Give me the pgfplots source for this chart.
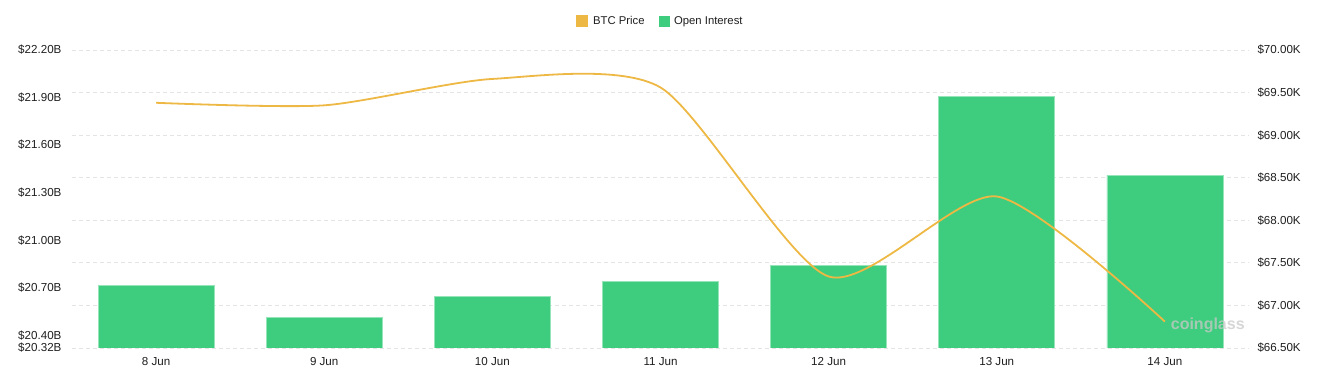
\documentclass[border=0pt]{standalone}
\usepackage{fontspec}
\setmainfont{Liberation Sans}
\usepackage{pgfplots}
\pgfplotsset{compat=1.18}
\definecolor{oigreen}{RGB}{62,205,126}
\definecolor{oiedge}{RGB}{150,228,185}
\definecolor{btcline}{RGB}{238,184,68}
\definecolor{gridc}{RGB}{228,228,228}
\definecolor{txt}{RGB}{30,30,30}
\definecolor{wm}{RGB}{200,200,200}

\pgfplotsset{
  base/.style={
    at={(0pt,0pt)}, anchor=south west,
    scale only axis, width=1177pt, height=298pt,
    xmin=-0.5, xmax=6.5,
    axis line style={draw=none},
    major tick length=0pt,
    tick label style={font=\fontsize{11.6}{13}\selectfont, text=txt},
    /pgf/number format/assume math mode=true,
  }
}

\begin{document}
\begin{tikzpicture}[x=1pt,y=1pt]
\useasboundingbox (-72,-31) rectangle (1245,348);

% grid + right axis labels
\begin{axis}[base,
  ymin=66.5, ymax=70,
  ytick={66.5,67,67.5,68,68.5,69,69.5,70},
  axis y line*=right,
  yticklabel style={xshift=5pt},
  yticklabel={\$\pgfmathprintnumber[fixed,fixed zerofill,precision=2]{\tick}K},
  xtick=\empty,
  ymajorgrids, grid style={gridc, dash pattern=on 4pt off 3pt, line width=0.8pt},
]
\addplot[draw=none] coordinates {(0,68)};
\end{axis}

% bars + left axis labels + x labels
\begin{axis}[base,
  ymin=20.32, ymax=22.20,
  ytick={20.32,20.40,20.70,21.00,21.30,21.60,21.90,22.20},
  axis y line*=left,
  yticklabel style={xshift=-7pt},
  yticklabel={\$\pgfmathprintnumber[fixed,fixed zerofill,precision=2]{\tick}B},
  xtick={0,1,2,3,4,5,6},
  xticklabels={8 Jun,9 Jun,10 Jun,11 Jun,12 Jun,13 Jun,14 Jun},
  xticklabel style={yshift=-6pt},
]
\addplot[ybar, bar width=116pt, fill=oigreen, draw=oiedge, line width=0.6pt] coordinates {
  (0,20.715) (1,20.513) (2,20.643) (3,20.740) (4,20.843) (5,21.907) (6,21.409)
};
\end{axis}

% BTC price line + legend
\begin{axis}[base,
  ymin=66.5, ymax=70,
  xtick=\empty, ytick=\empty,
  legend style={draw=none, fill=none, at={(0.5,1)}, anchor=center, yshift=29pt,
    legend columns=2, font=\fontsize{11.3}{13}\selectfont, text=txt,
    /tikz/every even column/.append style={column sep=12pt},
    legend cell align=left},
]
\addplot[btcline, line width=1.8pt, smooth, tension=0.42,
  legend image code/.code={\fill[btcline] (0pt,-5pt) rectangle (10pt,5pt); \path (13pt,0pt);}]
  coordinates {
  (0,69.38) (1,69.35) (2,69.66) (3,69.56) (4,67.34) (5,68.28) (6,66.81)
};
\addlegendentry{BTC Price}
\addlegendimage{legend image code/.code={\fill[oigreen] (0pt,-5pt) rectangle (10pt,5pt); \path (13pt,0pt);}}
\addlegendentry{Open Interest}
\node[text=wm, opacity=0.75, font=\fontsize{16}{18}\bfseries\selectfont, anchor=center]
  at (rel axis cs:0.965,0.077) {coinglass};
\end{axis}
\end{tikzpicture}
\end{document}
